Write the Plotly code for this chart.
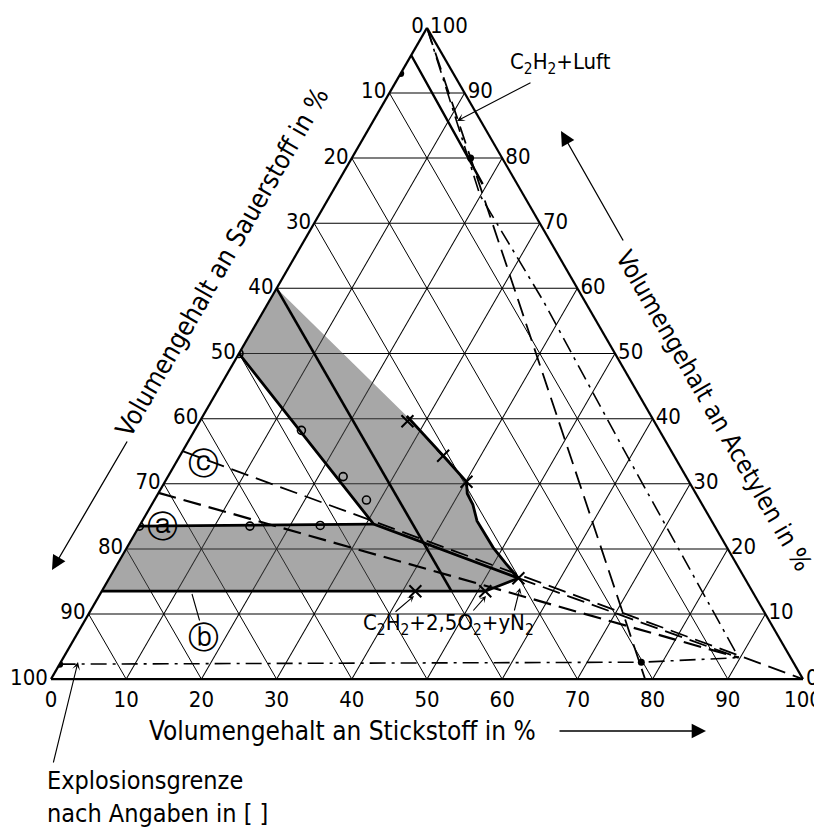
import plotly.graph_objects as go

# Volumengehalt in %: a = Acetylen (oben), b = Sauerstoff (links unten), c = Stickstoff (rechts unten)
grid_vals = list(range(0, 101, 10))
grid_text = [str(100 - v) for v in grid_vals]

# schraffierter Bereich
area_a = [60, 40.4, 34.3, 30.3, 26.8, 24.3, 20.2, 17.6, 15.5, 13.5, 13.5, 23.5, 23.8, 50, 60]
area_b = [40, 32.5, 30.7, 29.6, 30.5, 31.2, 31.1, 30.6, 30.1, 35.5, 86.5, 76.5, 45.2, 50, 40]
area_c = [0, 27.1, 35.0, 40.1, 42.7, 44.5, 48.7, 51.8, 54.4, 51.0, 0, 0, 31.0, 0, 0]

# kraeftige Grenzlinien
upper_a = [40.4, 34.3, 30.3, 28.5, 26.8, 24.3, 20.2, 17.6, 15.5]
upper_b = [32.5, 30.7, 29.6, 30.4, 30.5, 31.2, 31.1, 30.6, 30.1]
upper_c = [27.1, 35.0, 40.1, 41.1, 42.7, 44.5, 48.7, 51.8, 54.4]

lower_a = [50, 23.8, 15.5]
lower_b = [50, 45.2, 30.1]
lower_c = [0, 31.0, 54.4]

line_a_a = [23.5, 23.8]
line_a_b = [76.5, 45.2]
line_a_c = [0, 31.0]

line_b_a = [13.5, 13.5, 15.5]
line_b_b = [86.5, 35.5, 30.1]
line_b_c = [0, 51.0, 54.4]

o40_a = [60, 13.5]
o40_b = [40, 40]
o40_c = [0, 46.5]

# Messpunkte
circ_a = [50, 38.2, 31.1, 27.5, 23.5, 23.5, 23.6]
circ_b = [50, 47.6, 45.6, 44.3, 76.5, 61.8, 52.4]
circ_c = [0, 14.2, 23.3, 28.2, 0, 14.7, 24.0]

cross_a = [39.6, 34.3, 30.3, 13.5, 13.5, 15.5]
cross_b = [32.8, 30.7, 29.6, 44.8, 35.5, 30.1]
cross_c = [27.6, 35.0, 40.1, 41.7, 51.0, 54.4]

# gestrichelte Linien
c_line_a = [35, 0]
c_line_b = [65, 0]
c_line_c = [0, 100]

stoich_a = [28.6, 3.3]
stoich_b = [71.4, 6.9]
stoich_c = [0, 89.8]

tip_a = [15.5, 3.3]
tip_b = [30.1, 6.9]
tip_c = [54.4, 89.8]

luft_a = [100, 0]
luft_b = [0, 21]
luft_c = [0, 79]

# Explosionsgrenzen (strichpunktiert)
ogr_a = [100, 74.3, 58, 35.9, 3.3]
ogr_b = [0, 5.8, 5.5, 6.2, 6.9]
ogr_c = [0, 19.9, 36.5, 57.9, 89.8]

ogr2_a = [95.8, 80, 76]
ogr2_b = [4.2, 4.5, 4.6]
ogr2_c = [0, 15.5, 19.4]

ugr_a = [2.3, 2.6, 3.3]
ugr_b = [97.7, 20.2, 6.9]
ugr_c = [0, 77.2, 89.8]

dot_a = [93, 80, 2.6, 2.3]
dot_b = [7, 4.2, 20.2, 97.7]
dot_c = [0, 15.8, 77.2, 0]

FONT = "DejaVu Sans Condensed, Liberation Sans Narrow, DejaVu Sans, sans-serif"
OFF = 8                      # Seitenrand des Browsers
W, H = 822 - OFF, 834 - OFF

fig = go.Figure()

fig.add_trace(go.Scatterternary(a=area_a, b=area_b, c=area_c, mode="lines", fill="toself",
                                fillcolor="rgba(80,80,80,0.5)", line=dict(width=0),
                                hoverinfo="skip", showlegend=False))


def add_line(a, b, c, width=1.8, dash="solid"):
    fig.add_trace(go.Scatterternary(a=a, b=b, c=c, mode="lines",
                                    line=dict(color="black", width=width, dash=dash),
                                    hoverinfo="skip", showlegend=False))


LONG = "18px,8px"
DASHDOT = "16px,6px,3px,6px"

add_line(upper_a, upper_b, upper_c, 2.8)
add_line(lower_a, lower_b, lower_c, 2.8)
add_line(line_a_a, line_a_b, line_a_c, 2.8)
add_line(line_b_a, line_b_b, line_b_c, 2.8)
add_line(o40_a, o40_b, o40_c, 2.6)
add_line(c_line_a, c_line_b, c_line_c, 1.8, LONG)
add_line(stoich_a, stoich_b, stoich_c, 2.2, LONG)
add_line(tip_a, tip_b, tip_c, 1.8, LONG)
add_line(luft_a, luft_b, luft_c, 1.8, LONG)
add_line(ogr_a, ogr_b, ogr_c, 1.6, DASHDOT)
add_line(ogr2_a, ogr2_b, ogr2_c, 2.4)
add_line(ugr_a, ugr_b, ugr_c, 1.6, DASHDOT)

fig.add_trace(go.Scatterternary(a=circ_a, b=circ_b, c=circ_c, mode="markers",
                                marker=dict(symbol="circle-open", size=8, color="black",
                                            line=dict(width=1.6)),
                                hoverinfo="skip", showlegend=False))
fig.add_trace(go.Scatterternary(a=cross_a, b=cross_b, c=cross_c, mode="markers",
                                marker=dict(symbol="x-thin-open", size=12, color="black",
                                            line=dict(width=2, color="black")),
                                hoverinfo="skip", showlegend=False))
fig.add_trace(go.Scatterternary(a=dot_a, b=dot_b, c=dot_c, mode="markers",
                                marker=dict(symbol="circle", size=7, color="black"),
                                hoverinfo="skip", showlegend=False))

axis_style = dict(tickmode="array", tickvals=grid_vals, ticktext=grid_text,
                  showgrid=True, gridcolor="black", gridwidth=1,
                  linecolor="black", linewidth=2.2, ticks="",
                  tickfont=dict(family=FONT, size=22, color="black"),
                  title=dict(text=""), min=0)

# Dreieck: links unten x=51, rechts unten x=803, Mitte y=353.5 (Bildpixel)
fig.update_layout(
    width=W, height=H,
    paper_bgcolor="white",
    margin=dict(l=0, r=0, t=0, b=0, autoexpand=False),
    ternary=dict(sum=100, bgcolor="white",
                 domain=dict(x=[(51 - OFF) / W, (803 - OFF) / W],
                             y=[1 - (353.5 - OFF) / H - 0.40, 1 - (353.5 - OFF) / H + 0.40]),
                 aaxis=axis_style, baxis=axis_style, caxis=axis_style),
    font=dict(family=FONT, size=22, color="black"),
)


def P(x, y):
    return (x - OFF) / W, 1 - (y - OFF) / H


def text(x, y, s, size=22, angle=0, xanchor="center", yanchor="middle", align="center"):
    px, py = P(x, y)
    fig.add_annotation(x=px, y=py, xref="paper", yref="paper", text=s, showarrow=False,
                       textangle=angle, xanchor=xanchor, yanchor=yanchor, align=align,
                       font=dict(family=FONT, size=size, color="black"))


def arrow(x, y, ax, ay, head=2, size=1.6, width=1.4):
    px, py = P(x, y)
    fig.add_annotation(x=px, y=py, xref="paper", yref="paper", ax=ax, ay=ay, text="",
                       showarrow=True, arrowhead=head, arrowsize=size, arrowwidth=width,
                       arrowcolor="black")


text(222, 262, "Volumengehalt an Sauerstoff in %", size=26, angle=-60)
arrow(52, 570, 76, -130, size=2.2, width=1.3)
text(714, 410, "Volumengehalt an Acetylen in %", size=25, angle=60)
arrow(561, 131, 63, 111, size=2.2, width=1.3)
text(342, 731, "Volumengehalt an Stickstoff in %", size=26)
arrow(706, 731, -148, 0, size=2.2, width=1.3)

text(45, 764, "Explosionsgrenze<br>nach Angaben in [ ]", size=25,
     xanchor="left", yanchor="top", align="left")
arrow(78, 662, -25, 102, head=3, size=1.2, width=1.1)

text(560, 63, "C<sub>2</sub>H<sub>2</sub>+Luft")
arrow(457, 121, 75, -39, head=3, size=1.2, width=1.1)

text(448, 624, "C<sub>2</sub>H<sub>2</sub>+2,5O<sub>2</sub>+yN<sub>2</sub>")
arrow(414, 596, -20, 17, head=3, size=1.0, width=1.1)
arrow(486, 596, -14, 16, head=3, size=1.0, width=1.1)
arrow(520, 588, -6, 24, head=3, size=1.0, width=1.1)

text(162, 526, "ⓐ", size=31)
text(203, 637, "ⓑ", size=31)
text(203, 463, "ⓒ", size=31)
arrow(192, 594, 8, 28, head=0, width=1.1)

fig.write_html("out.html")
